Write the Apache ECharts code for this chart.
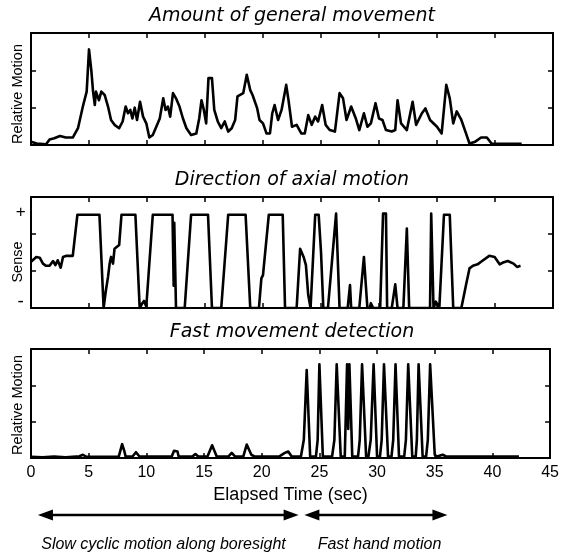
<!DOCTYPE html>
<html><head><meta charset="utf-8">
<script src="https://cdn.jsdelivr.net/npm/echarts@6/dist/echarts.min.js"></script>
<style>html,body{margin:0;padding:0;background:#fff}#c{width:562px;height:555px}</style>
</head><body><div id="c"></div>
<script>
// ---- data (time in sec, value in relative units) ----
const generalMovement = [[0,0.09],[0.5,0.04],[1.3,0.02],[1.6,0.15],[2.0,0.18],[2.5,0.24],[3.0,0.2],[3.6,0.2],[4.05,0.45],[4.5,1.07],[4.8,1.43],[5.0,2.56],[5.2,2.0],[5.35,1.43],[5.5,1.07],[5.6,1.43],[5.86,1.2],[6.06,1.43],[6.35,1.34],[6.64,1.03],[6.9,0.67],[7.2,0.54],[7.6,0.45],[7.9,0.63],[8.16,1.03],[8.36,0.85],[8.56,0.94],[8.74,0.71],[8.94,1.0],[9.14,0.67],[9.4,1.16],[9.66,0.76],[9.94,0.58],[10.2,0.2],[10.5,0.27],[10.8,0.49],[11.1,0.71],[11.4,1.25],[11.6,0.94],[11.8,1.03],[12.0,0.76],[12.24,1.39],[12.5,1.25],[12.8,1.03],[13.1,0.71],[13.4,0.45],[13.8,0.27],[14.25,0.31],[14.5,0.71],[14.7,1.2],[14.9,0.94],[15.1,0.58],[15.3,1.79],[15.6,1.79],[15.8,0.94],[16.1,0.63],[16.4,0.45],[16.7,0.63],[17.0,0.36],[17.3,0.45],[17.6,0.67],[17.8,1.3],[18.3,1.39],[18.6,1.88],[18.9,1.47],[19.1,1.34],[19.5,0.98],[19.7,0.67],[20.0,0.58],[20.3,0.31],[20.6,0.31],[20.8,0.85],[21.0,1.07],[21.3,0.67],[21.6,0.94],[22.0,1.61],[22.2,1.2],[22.5,0.49],[22.9,0.54],[23.3,0.31],[23.6,0.31],[23.9,0.8],[24.2,0.54],[24.5,0.76],[24.75,0.63],[25.1,1.07],[25.4,0.54],[25.75,0.4],[26.2,0.36],[26.6,1.39],[26.9,1.25],[27.2,0.67],[27.6,1.03],[28.0,0.71],[28.3,0.4],[28.7,0.85],[29.0,0.49],[29.3,0.58],[29.7,1.12],[30.0,0.71],[30.3,0.67],[30.6,0.4],[31.1,0.36],[31.4,0.4],[31.6,1.2],[31.9,0.58],[32.4,0.4],[32.9,1.16],[33.2,0.54],[33.7,0.85],[34.0,0.98],[34.4,0.67],[35.0,0.49],[35.4,0.31],[35.8,1.61],[36.1,1.25],[36.4,0.58],[36.7,0.9],[37.1,0.67],[37.5,0.31],[37.8,0.04],[38.3,0.09],[38.8,0.2],[39.3,0.2],[39.7,0.04],[40.1,0.03],[42.3,0.03]];

const axialSense = [[0,1.25],[0.17,1.29],[0.46,1.38],[0.75,1.36],[1.03,1.2],[1.3,1.14],[1.6,1.14],[1.9,1.27],[2.1,1.16],[2.3,1.29],[2.56,1.09],[2.76,1.38],[3.05,1.41],[3.6,1.41],[4.0,2.52],[5.9,2.52],[6.26,0],[6.44,0.44],[6.64,0.84],[6.78,1.2],[6.9,1.38],[7.07,1.2],[7.2,1.6],[7.36,1.65],[7.6,1.7],[7.8,2.52],[9.0,2.52],[9.37,0],[9.6,0.13],[9.74,0.19],[9.94,0.04],[10.1,0],[10.5,2.52],[12.2,2.52],[12.3,0.6],[12.35,2.3],[12.5,0],[13.25,0],[13.8,2.52],[15.26,2.52],[15.6,0],[16.4,0],[17.0,2.52],[18.5,2.52],[18.9,0],[19.65,0],[19.86,0.8],[20.0,0.89],[20.5,2.52],[21.7,2.52],[21.9,0],[22.9,0],[23.2,1.6],[23.3,1.56],[23.5,1.38],[23.7,1.16],[23.9,0.35],[24.1,0],[24.5,2.52],[24.8,2.52],[25.0,1.52],[25.2,0],[25.6,0],[26.3,2.55],[26.6,0],[27.3,0],[27.5,0.62],[27.6,0],[28.3,0],[28.7,1.38],[29.0,0],[29.2,0],[29.3,0.13],[29.5,0],[30.1,0],[30.35,2.55],[30.6,2.55],[30.7,0],[31.1,0],[31.4,0.64],[31.6,0],[32.1,0],[32.4,2.15],[32.6,0],[34.4,0],[34.5,2.55],[34.7,0],[34.9,0.17],[35.2,0],[35.6,2.52],[36.1,2.52],[36.4,0],[37.1,0],[37.5,0.62],[37.8,1.07],[38.1,1.14],[38.5,1.18],[38.8,1.25],[39.5,1.41],[39.97,1.38],[40.4,1.18],[40.7,1.23],[41.1,1.27],[41.6,1.2],[41.9,1.11],[42.2,1.14]];

const fastDetection = [[0,0.03],[1,0.02],[2,0.04],[3,0.02],[4.2,0.05],[4.5,0.09],[4.8,0.03],[7.6,0.03],[7.9,0.38],[8.1,0.18],[8.2,0.04],[8.8,0.04],[9.1,0.16],[9.4,0.04],[12.2,0.04],[12.4,0.2],[12.7,0.18],[12.8,0.04],[14.0,0.04],[14.25,0.11],[14.5,0.04],[15.3,0.04],[15.7,0.35],[16.1,0.04],[17.1,0.04],[17.4,0.14],[17.7,0.04],[18.4,0.04],[18.7,0.37],[19.1,0.09],[19.4,0.04],[21.5,0.04],[22.0,0.14],[22.3,0.18],[22.6,0.04],[23.4,0.04],[23.65,0.5],[23.9,2.42],[24.2,0.04],[24.7,0.04],[24.85,0.5],[25.0,2.58],[25.3,0.04],[26.1,0.04],[26.3,0.5],[26.5,2.58],[26.85,0.04],[27.2,0.04],[27.4,2.58],[27.5,0.8],[27.6,2.58],[27.85,0.04],[28.35,0.04],[28.5,0.5],[28.7,2.58],[29.05,0.04],[29.25,0.04],[29.45,0.5],[29.7,2.58],[30.0,0.04],[30.25,0.04],[30.4,0.5],[30.6,2.58],[30.95,0.04],[31.25,0.04],[31.4,0.5],[31.6,2.58],[31.9,0.04],[32.35,0.04],[32.5,0.5],[32.7,2.58],[33.05,0.04],[33.35,0.04],[33.45,0.5],[33.6,2.58],[33.95,0.04],[34.25,0.04],[34.4,0.5],[34.6,2.58],[35.0,0.09],[35.2,0.04],[35.7,0.09],[36.0,0.04],[42.3,0.04]];

const timeTickLabels = [0,5,10,15,20,25,30,35,40,45];
const panelTitles = ['Amount of general movement','Direction of axial motion','Fast movement detection'];
const yAxisNames = ['Relative Motion','Sense','Relative Motion'];
const senseLabels = [['+',2.58],['-',0.16]];
const phaseSpans = [[0.6,23.2,'Slow cyclic motion along boresight'],[23.7,36.1,'Fast hand motion']];

// ---- layout ----
const grids = [
  {left:31, right:9, top:33, height:112},
  {left:31, right:9, top:197, height:111},
  {left:31, right:9, top:349, height:109}
];
const titleY = [16.3, 179.7, 332.5];
const nameY = [94, 262, 405];

const axisLineStyle = {color:'#000', width:2};
const tickStyle = {color:'#000', width:1.5};
function xAx(i, pos){
  return {type:'value', gridIndex:i, position:pos, min:0, max:45, interval:5,
    axisLine:{show:true, onZero:false, lineStyle:axisLineStyle},
    axisTick:{show:true, inside:true, length:5, lineStyle:tickStyle},
    axisLabel:{show:(i===2 && pos==='bottom'), color:'#000', fontSize:16, fontFamily:'Liberation Sans', margin:7,
      formatter:v=>timeTickLabels.includes(v)?String(v):''},
    splitLine:{show:false},
    name:(i===2 && pos==='bottom')?'Elapsed Time (sec)':'',
    nameLocation:'middle', nameGap:28,
    nameTextStyle:{color:'#000', fontSize:18, fontFamily:'Liberation Sans'}
  };
}
function yAx(i, pos){
  return {type:'value', gridIndex:i, position:pos, min:0, max:3, interval:1,
    axisLine:{show:true, onZero:false, lineStyle:axisLineStyle},
    axisTick:{show:true, inside:true, length:5, lineStyle:tickStyle},
    axisLabel:{show:false}, splitLine:{show:false}};
}
const xAxes=[], yAxes=[];
for(let i=0;i<3;i++){ xAxes.push(xAx(i,'bottom'), xAx(i,'top')); yAxes.push(yAx(i,'left'), yAx(i,'right')); }

const seriesData=[generalMovement, axialSense, fastDetection];
const series = seriesData.map((d,i)=>({
  type:'line', xAxisIndex:2*i, yAxisIndex:2*i, data:d, symbol:'none', showSymbol:false,
  lineStyle:{color:'#000', width:2.6, join:'round'}, itemStyle:{color:'#000'}, clip:true, silent:true
}));

const chart = echarts.init(document.getElementById('c'), null, {renderer:'canvas'});
chart.setOption({animation:false, backgroundColor:'#fff', grid:grids, xAxis:xAxes, yAxis:yAxes, series:series});

// ---- annotations ----
const g=[];
panelTitles.forEach((t,i)=>g.push({type:'text', style:{text:t, x:292, y:titleY[i], align:'center', verticalAlign:'middle',
  font:'italic 19px "DejaVu Sans"', fill:'#000'}}));
yAxisNames.forEach((t,i)=>g.push({type:'text', x:18, y:nameY[i], rotation:Math.PI/2,
  style:{text:t, x:0, y:0, align:'center', verticalAlign:'middle', font:'14.5px "Liberation Sans"', fill:'#000'}}));
senseLabels.forEach(([s,v])=>{
  const py = chart.convertToPixel({yAxisIndex:2}, v);
  g.push({type:'text', style:{text:s, x:20.7, y:py, align:'center', verticalAlign:'middle', font:(s==='+'?'17px':'19px')+' "Liberation Sans"', fill:'#000'}});
});
const arrowY = 515, head = 15, hh = 5.5;
phaseSpans.forEach(([a,b,label])=>{
  const x1 = chart.convertToPixel({xAxisIndex:4}, a);
  const x2 = chart.convertToPixel({xAxisIndex:4}, b);
  g.push({type:'line', shape:{x1:x1+head-2, y1:arrowY, x2:x2-head+2, y2:arrowY}, style:{stroke:'#000', lineWidth:2.6}});
  g.push({type:'polygon', shape:{points:[[x1,arrowY],[x1+head,arrowY-hh],[x1+head,arrowY+hh]]}, style:{fill:'#000'}});
  g.push({type:'polygon', shape:{points:[[x2,arrowY],[x2-head,arrowY-hh],[x2-head,arrowY+hh]]}, style:{fill:'#000'}});
});
const labelCenters = [163.5, 379.5];
phaseSpans.forEach(([a,b,label],i)=>g.push({type:'text', style:{text:label, x:labelCenters[i], y:545, align:'center', verticalAlign:'middle',
  font:'italic 16px "Liberation Sans"', fill:'#000'}}));
chart.setOption({graphic:g});
</script></body></html>
